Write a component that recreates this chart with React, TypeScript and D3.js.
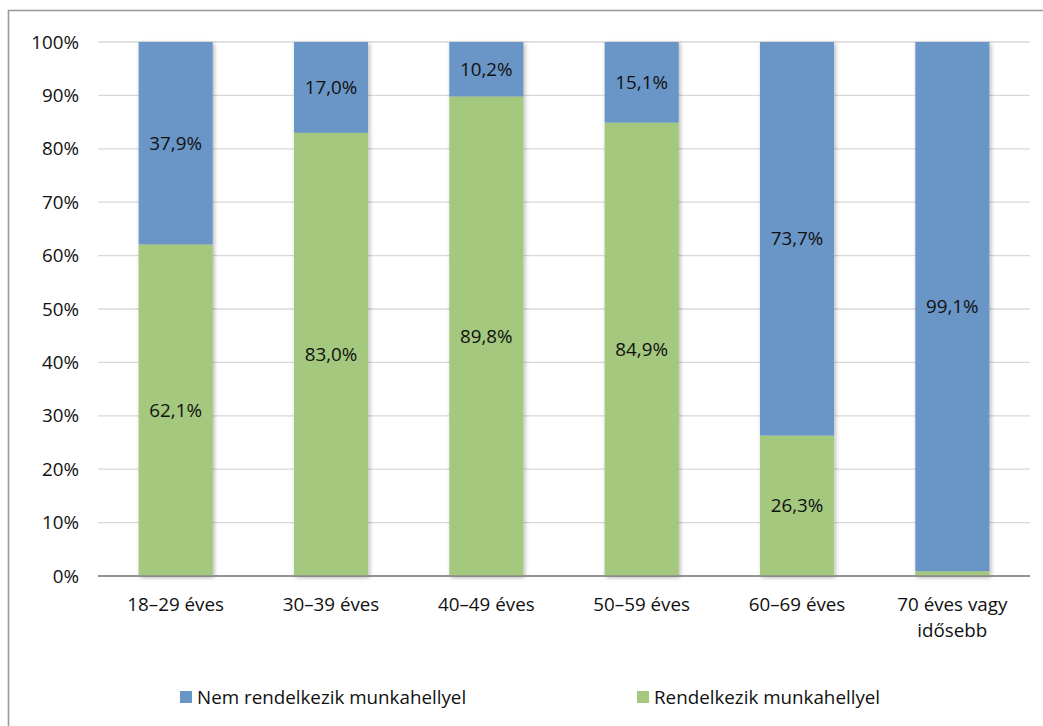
import React from "react";
import * as d3 from "d3";

// Age groups and the share (%) of each group with / without a workplace
const categories: string[][] = [
  ["18–29 éves"],
  ["30–39 éves"],
  ["40–49 éves"],
  ["50–59 éves"],
  ["60–69 éves"],
  ["70 éves vagy", "idősebb"],
];
const hasWork: number[] = [62.1, 83.0, 89.8, 84.9, 26.3, 0.9];
const noWork: number[] = [37.9, 17.0, 10.2, 15.1, 73.7, 99.1];
const yTicks: number[] = [0, 10, 20, 30, 40, 50, 60, 70, 80, 90, 100];
const seriesNames: string[] = ["Nem rendelkezik munkahellyel", "Rendelkezik munkahellyel"];

const W = 1043;
const H = 726;
const margin = { left: 98, right: 13, top: 42, bottom: 150 };
const BLUE = "#6A96C7";
const GREEN = "#A3C87E";
const FONT = "'Open Sans', 'Noto Sans', sans-serif";
const FS = 18.8;
const INK = "#111";
const fmt = (v: number) => v.toFixed(1).replace(".", ",") + "%";

export default function App() {
  const x = d3
    .scaleBand<number>()
    .domain(d3.range(categories.length))
    .range([margin.left, W - margin.right])
    .paddingInner(0.523)
    .paddingOuter(0.2615);
  const y = d3.scaleLinear().domain([0, 100]).range([H - margin.bottom, margin.top]);

  const rows = categories.map((c, i) => ({ i, hasWork: hasWork[i], noWork: noWork[i] }));
  const stacked = d3.stack<any>().keys(["hasWork", "noWork"])(rows);
  const colors: Record<string, string> = { hasWork: GREEN, noWork: BLUE };

  return (
    <svg
      width={W}
      height={H}
      style={{ position: "absolute", left: 0, top: 0, background: "#fff" }}
      fontFamily={FONT}
    >
      <defs>
        <filter id="barShadow" x="-20%" y="-5%" width="140%" height="110%">
          <feDropShadow dx="1.5" dy="1.5" stdDeviation="2" floodColor="#000" floodOpacity="0.3" />
        </filter>
      </defs>
      <rect x={8.5} y={10.5} width={W + 20} height={H + 20} fill="#fff" stroke="#9a9a9a" strokeWidth={1.6} />

      {/* gridlines */}
      {yTicks.map((t) => (
        <line
          key={t}
          x1={margin.left}
          x2={W - margin.right}
          y1={y(t)}
          y2={y(t)}
          stroke={t === 0 ? "#8c8c8c" : "#d9d9d9"}
          strokeWidth={t === 0 ? 1.6 : 1.3}
        />
      ))}
      {yTicks.map((t) => (
        <text key={"l" + t} x={79} y={y(t)} dy="0.35em" textAnchor="end" fontSize={FS} fill={INK}>
          {t}%
        </text>
      ))}

      {/* stacked bars */}
      <g filter="url(#barShadow)">
        {stacked.map((s) =>
          s.map((d, i) => (
            <rect
              key={s.key + i}
              x={x(i)}
              width={x.bandwidth()}
              y={y(d[1])}
              height={y(d[0]) - y(d[1])}
              fill={colors[s.key]}
            />
          ))
        )}
      </g>
      <line x1={margin.left} x2={W - margin.right} y1={y(0)} y2={y(0)} stroke="#8c8c8c" strokeWidth={1.6} />

      {/* value labels */}
      {stacked.map((s) =>
        s.map((d, i) => {
          const v = d[1] - d[0];
          if (v < 5) return null;
          return (
            <text
              key={"v" + s.key + i}
              x={(x(i) as number) + x.bandwidth() / 2}
              y={(y(d[0]) + y(d[1])) / 2}
              dy="0.35em"
              textAnchor="middle"
              fontSize={FS}
              fill={INK}
            >
              {fmt(v)}
            </text>
          );
        })
      )}

      {/* category labels */}
      {categories.map((lines, i) => (
        <text
          key={"c" + i}
          x={(x(i) as number) + x.bandwidth() / 2}
          y={604}
          textAnchor="middle"
          fontSize={FS}
          fill={INK}
        >
          {lines.map((ln, k) => (
            <tspan key={k} x={(x(i) as number) + x.bandwidth() / 2} dy={k === 0 ? "0.35em" : 26}>
              {ln}
            </tspan>
          ))}
        </text>
      ))}

      {/* legend */}
      {seriesNames.map((name, k) => {
        const lx = k === 0 ? 180 : 637;
        return (
          <g key={name}>
            <rect x={lx} y={691} width={12} height={12} fill={k === 0 ? BLUE : GREEN} />
            <text x={lx + 17} y={697} dy="0.35em" fontSize={FS} fill={INK}>
              {name}
            </text>
          </g>
        );
      })}
    </svg>
  );
}
